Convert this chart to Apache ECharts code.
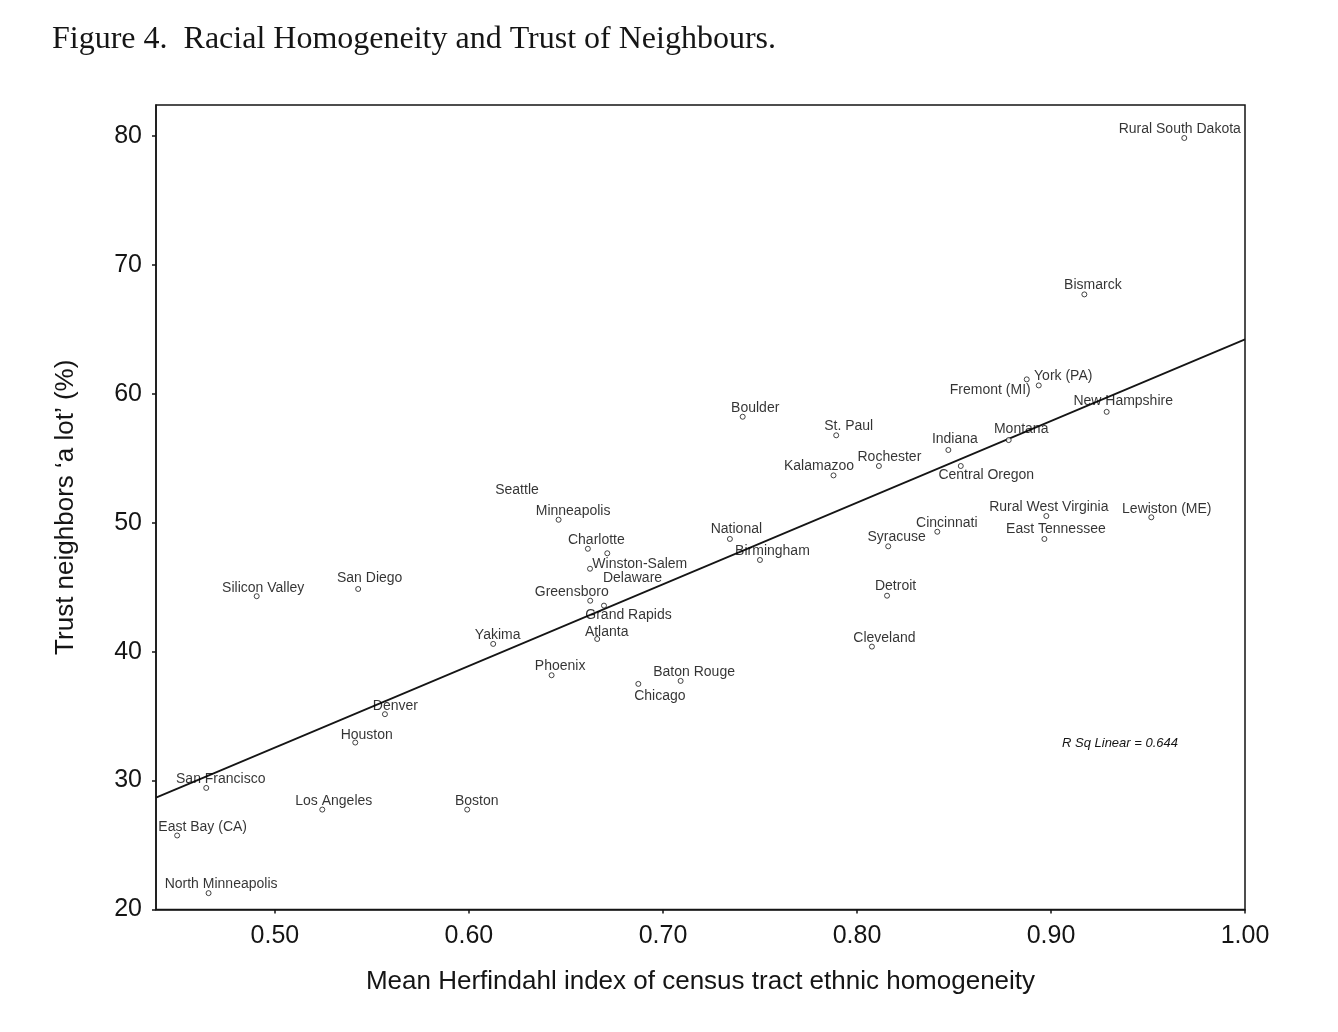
<!DOCTYPE html>
<html lang="en" style="height: 100%">
<head>
  <meta charset="utf-8">
</head>
<body style="height: 100%; margin: 0; background: #fff">
  <div id="container" style="height: 100%"></div>

  <script type="text/javascript" src="https://fastly.jsdelivr.net/npm/echarts@6/dist/echarts.min.js"></script>

  <script type="text/javascript">
    // places
    const places = [
      'Rural South Dakota', 'Bismarck', 'York (PA)', 'Fremont (MI)', 'New Hampshire',
      'Boulder', 'St. Paul', 'Montana', 'Indiana', 'Rochester', 'Central Oregon',
      'Kalamazoo', 'Seattle', 'Minneapolis', 'Rural West Virginia', 'Lewiston (ME)',
      'Cincinnati', 'National', 'East Tennessee', 'Syracuse', 'Charlotte',
      'Winston-Salem', 'Birmingham', 'Delaware', 'San Diego', 'Silicon Valley',
      'Detroit', 'Greensboro', 'Grand Rapids', 'Atlanta', 'Yakima', 'Cleveland',
      'Phoenix', 'Baton Rouge', 'Chicago', 'Denver', 'Houston', 'San Francisco',
      'Los Angeles', 'Boston', 'East Bay (CA)', 'North Minneapolis'
    ];
    // mean Herfindahl index
    const herfindahl = [
      0.9687, 0.9172, 0.8875, 0.8937, 0.9287,
      0.7411, 0.7893, 0.8782, 0.8471, 0.8113, 0.8535,
      0.7879, 0.6191, 0.6462, 0.8976, 0.9517,
      0.8414, 0.7345, 0.8966, 0.8161, 0.6613,
      0.6713, 0.7500, 0.6624, 0.5429, 0.4906,
      0.8155, 0.6625, 0.6696, 0.6661, 0.6125, 0.8077,
      0.6426, 0.7091, 0.6873, 0.5567, 0.5414, 0.4646,
      0.5244, 0.5991, 0.4496, 0.4658
    ];
    // trust neighbours 'a lot' (%)
    const trust = [
      79.84, 67.71, 61.12, 60.65, 58.60,
      58.22, 56.78, 56.41, 55.64, 54.40, 54.40,
      53.67, 51.91, 50.23, 50.52, 50.42,
      49.30, 48.74, 48.74, 48.17, 47.98,
      47.63, 47.11, 46.43, 44.86, 44.30,
      44.34, 43.95, 43.57, 40.98, 40.60, 40.39,
      38.17, 37.73, 37.50, 35.15, 32.95, 29.43,
      27.75, 27.75, 25.74, 21.27
    ];
    // fit line ends
    const fitX = [0.4387, 1.00];
    const fitY = [28.68, 64.22];
    const xTicks = [0.5, 0.6, 0.7, 0.8, 0.9, 1.0];
    const yTicks = [20, 30, 40, 50, 60, 70, 80];
    const rSquared = 0.644;

    // label nudges (px from the point)
    const labelShift = {
      'Rural South Dakota': [-4, -9], 'Bismarck': [9, -10], 'York (PA)': [37, -4],
      'Fremont (MI)': [-48, 4], 'New Hampshire': [17, -11], 'Boulder': [13, -9],
      'St. Paul': [13, -10], 'Montana': [13, -11], 'Indiana': [7, -11],
      'Rochester': [11, -9], 'Central Oregon': [26, 9], 'Kalamazoo': [-14, -10],
      'Seattle': [11, -9], 'Minneapolis': [15, -9], 'Rural West Virginia': [3, -9],
      'Lewiston (ME)': [16, -9], 'Cincinnati': [10, -9], 'National': [7, -10],
      'East Tennessee': [12, -10], 'Syracuse': [9, -10], 'Charlotte': [9, -9],
      'Winston-Salem': [33, 10], 'Birmingham': [13, -9], 'Delaware': [43, 9],
      'San Diego': [12, -11], 'Silicon Valley': [7, -9], 'Detroit': [9, -10],
      'Greensboro': [-18, -9], 'Grand Rapids': [25, 9], 'Atlanta': [10, -7],
      'Yakima': [5, -9], 'Cleveland': [13, -9], 'Phoenix': [9, -10],
      'Baton Rouge': [14, -9], 'Chicago': [22, 12], 'Denver': [11, -9],
      'Houston': [12, -8], 'San Francisco': [15, -9], 'Los Angeles': [12, -9],
      'Boston': [10, -9], 'East Bay (CA)': [26, -9], 'North Minneapolis': [13, -9]
    };

    const ink = '#151515';
    const sans = '"Liberation Sans", Arial, sans-serif';
    const dot = 5;

    const points = places.map((name, i) => {
      const size = name === 'Seattle' ? 0 : dot;
      const s = labelShift[name] || [10, -9];
      return {
        name: name,
        value: [herfindahl[i], trust[i]],
        symbolSize: size,
        label: { position: [size / 2 + s[0], size / 2 + s[1] + 1] }
      };
    });

    var dom = document.getElementById('container');
    var myChart = echarts.init(dom, null, { renderer: 'canvas' });

    var option = {
      animation: false,
      title: {
        text: 'Figure 4.  Racial Homogeneity and Trust of Neighbours.',
        left: 47,
        top: 19,
        textStyle: {
          fontFamily: '"Liberation Serif", "Times New Roman", serif',
          fontSize: 32,
          fontWeight: 'normal',
          color: ink
        }
      },
      grid: {
        left: 156,
        right: 93,
        top: 105,
        bottom: 122.5,
        show: true,
        borderColor: ink,
        borderWidth: 1.5,
        backgroundColor: 'transparent'
      },
      xAxis: {
        type: 'value',
        min: fitX[0],
        max: fitX[1],
        name: 'Mean Herfindahl index of census tract ethnic homogeneity',
        nameLocation: 'middle',
        nameGap: 59,
        nameTextStyle: { fontFamily: sans, fontSize: 26, color: ink },
        axisLine: { lineStyle: { color: ink, width: 1.5 } },
        axisTick: { customValues: xTicks, length: 4, lineStyle: { color: ink, width: 1.5 } },
        axisLabel: {
          customValues: xTicks,
          formatter: v => v.toFixed(2),
          fontFamily: sans,
          fontSize: 25,
          color: ink,
          margin: 14
        },
        splitLine: { show: false }
      },
      yAxis: {
        type: 'value',
        min: yTicks[0],
        max: 82.4,
        name: 'Trust neighbors \u2018a lot\u2019 (%)',
        nameLocation: 'middle',
        nameGap: 77,
        nameTextStyle: { fontFamily: sans, fontSize: 26, color: ink },
        axisLine: { lineStyle: { color: ink, width: 1.5 } },
        axisTick: { customValues: yTicks, length: 4, lineStyle: { color: ink, width: 1.5 } },
        axisLabel: {
          customValues: yTicks,
          fontFamily: sans,
          fontSize: 25,
          color: ink,
          margin: 14
        },
        splitLine: { show: false }
      },
      graphic: [{
        type: 'text',
        left: 1062,
        top: 737,
        style: {
          text: 'R Sq Linear = ' + rSquared.toFixed(3),
          font: 'italic 13px "Liberation Sans", Arial, sans-serif',
          fill: ink
        }
      }],
      series: [
        {
          type: 'line',
          data: [[fitX[0], fitY[0]], [fitX[1], fitY[1]]],
          symbol: 'none',
          silent: true,
          lineStyle: { color: ink, width: 1.7 }
        },
        {
          type: 'scatter',
          data: points,
          symbol: 'circle',
          itemStyle: { color: '#fff', borderColor: ink, borderWidth: 1 },
          label: {
            show: true,
            align: 'center',
            verticalAlign: 'middle',
            formatter: '{b}',
            fontFamily: sans,
            fontSize: 14,
            color: '#000'
          },
          labelLayout: { hideOverlap: false },
          z: 3
        }
      ]
    };

    myChart.setOption(option);
    window.addEventListener('resize', myChart.resize);
  </script>
</body>
</html>
